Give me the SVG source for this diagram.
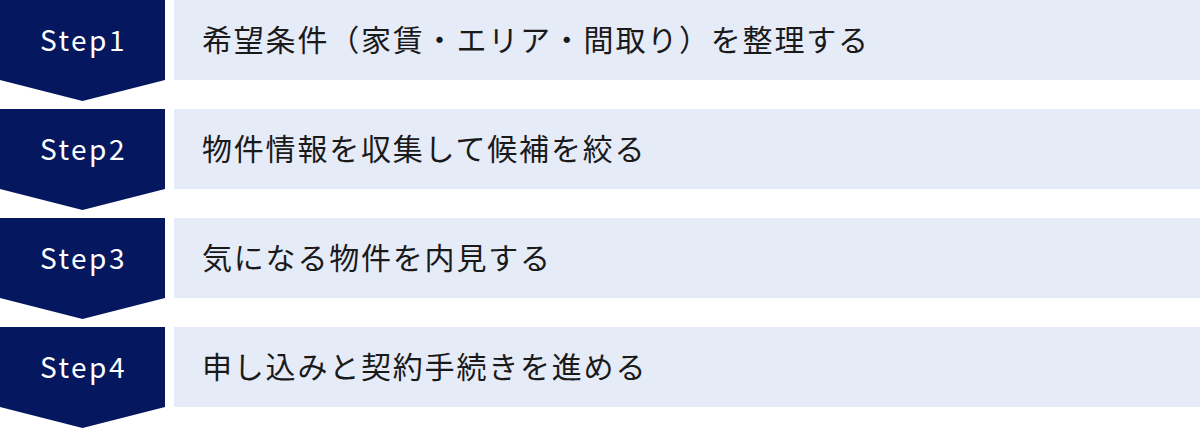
<svg xmlns="http://www.w3.org/2000/svg" width="1200" height="429" viewBox="0 0 1200 429">
<defs>
<style>
.badge{fill:#05175f}
.bar{fill:#e6ebf8}
.step{font-family:"Noto Sans CJK JP","Noto Sans",sans-serif;font-size:28px;fill:#ffffff;text-anchor:middle;letter-spacing:2.5px}
.label{font-family:"Noto Sans CJK JP","Noto Sans",sans-serif;font-size:30px;fill:#1a1a1a;letter-spacing:1.8px}
</style>
</defs>
<rect width="1200" height="429" fill="#ffffff"/>
<g id="step1">
<polygon class="badge" points="0,0 165,0 165,80 82.5,101 0,80"/>
<rect class="bar" x="174" y="0" width="1026" height="80"/>
<text class="step" x="83.5" y="51">Step1</text>
<text class="label" x="202" y="51">希望条件（家賃・エリア・間取り）を整理する</text>
</g>
<g id="step2">
<polygon class="badge" points="0,109 165,109 165,189 82.5,210 0,189"/>
<rect class="bar" x="174" y="109" width="1026" height="80"/>
<text class="step" x="83.5" y="160">Step2</text>
<text class="label" x="202" y="160">物件情報を収集して候補を絞る</text>
</g>
<g id="step3">
<polygon class="badge" points="0,218 165,218 165,298 82.5,319 0,298"/>
<rect class="bar" x="174" y="218" width="1026" height="80"/>
<text class="step" x="83.5" y="269">Step3</text>
<text class="label" x="202" y="269">気になる物件を内見する</text>
</g>
<g id="step4">
<polygon class="badge" points="0,327 165,327 165,407 82.5,428 0,407"/>
<rect class="bar" x="174" y="327" width="1026" height="80"/>
<text class="step" x="83.5" y="378">Step4</text>
<text class="label" x="202" y="378">申し込みと契約手続きを進める</text>
</g>
<g id="connectors"></g>
</svg>
